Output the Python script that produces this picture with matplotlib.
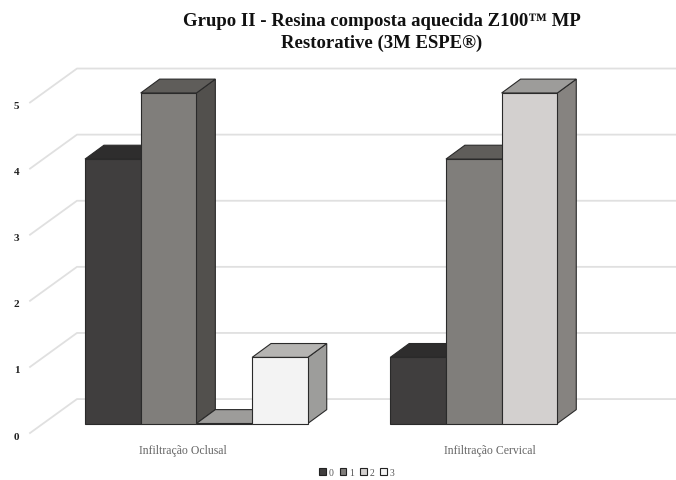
import matplotlib
matplotlib.use("Agg")
import matplotlib.pyplot as plt
from matplotlib.patches import Patch, Polygon

plt.rcParams["font.family"] = ["Liberation Serif", "DejaVu Serif"]

# data
categories = ["Infiltração Oclusal", "Infiltração Cervical"]
series_names = ["0", "1", "2", "3"]
oclusal = [4, 5, 0, 1]
cervical = [1, 4, 5, None]
y_ticks = [0, 1, 2, 3, 4, 5]
title = "Grupo II - Resina composta aquecida Z100™ MP\nRestorative (3M ESPE®)"

# colours for each series: front, top, side
front_colors = ["#403e3e", "#807e7b", "#d3d0cf", "#f3f3f3"]
top_colors = ["#2e2d2d", "#5f5d5a", "#9d9c9a", "#b5b4b2"]
side_colors = ["#2f2e2e", "#52504d", "#868380", "#9d9d9b"]

# pixels per data unit, used to set up the axes
px_x = 55.7
px_y = 66.1
x0_px = 85
y0_px = 424.5

# fake 3d depth
dx = 0.34
dy = 0.21
group_gap = 5.48

fig = plt.figure(figsize=(6.76, 4.81), dpi=100)
ax = fig.add_axes([0, 0, 1, 1])
ax.set_xlim(-x0_px / px_x, (676 - x0_px) / px_x)
ax.set_ylim((y0_px - 481) / px_y, y0_px / px_y)
ax.axis("off")

# wall grid lines
for v in y_ticks:
    ax.plot([-0.987, -0.144, 10.6], [v - 0.144, v + 0.37, v + 0.37],
            color="#e0e0e0", lw=1.3, zorder=1)
    ax.text(-1.23, v - 0.19, str(v), ha="center", va="center",
            fontsize=8, fontweight="bold", color="#222222")


def draw_bar(x, h, i):
    front = [(x, 0), (x + 1, 0), (x + 1, h), (x, h)]
    top = [(x, h), (x + 1, h), (x + 1 + dx, h + dy), (x + dx, h + dy)]
    side = [(x + 1, 0), (x + 1 + dx, dy), (x + 1 + dx, h + dy), (x + 1, h)]
    for pts, col in [(side, side_colors[i]), (top, top_colors[i]), (front, front_colors[i])]:
        ax.add_patch(Polygon(pts, closed=True, facecolor=col, edgecolor="#2a2a2a",
                             lw=0.8, zorder=3))


for start, values in [(0, oclusal), (group_gap, cervical)]:
    for i, val in enumerate(values):
        if val is not None:
            draw_bar(start + i, val, i)

ax.text(1.76, -0.4, categories[0], ha="center", va="center", fontsize=8.5, color="#666666")
ax.text(group_gap + 1.78, -0.4, categories[1], ha="center", va="center", fontsize=8.5, color="#666666")

fig.text(382 / 676, 0.9325, title, ha="center", va="center", fontsize=13.5,
         fontweight="bold", color="#111111", linespacing=1.38)

handles = [Patch(facecolor=c, edgecolor="#222222", lw=0.8) for c in front_colors]
fig.legend(handles, series_names, loc="lower center", bbox_to_anchor=(0.528, -0.012), ncols=4,
           frameon=False, fontsize=7, labelcolor="#555555", handlelength=0.7, handleheight=0.7,
           handletextpad=0.3, columnspacing=0.6)

fig.savefig("out.png", dpi=100)
